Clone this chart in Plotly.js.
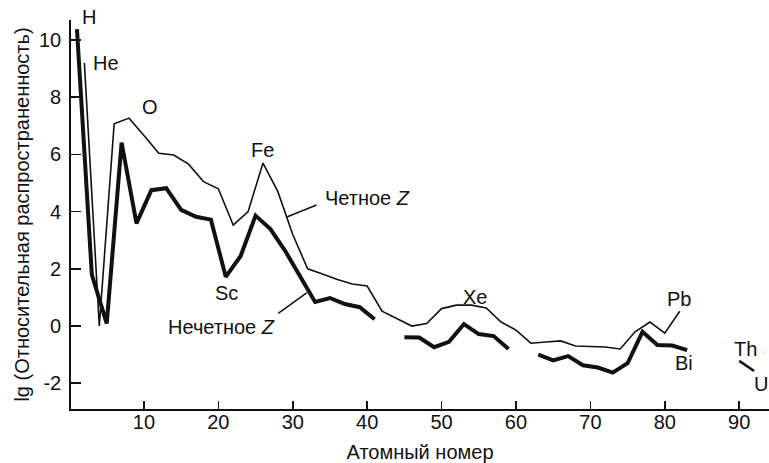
<!DOCTYPE html>
<html>
<head>
<meta charset="utf-8">
<script src="https://cdn.plot.ly/plotly-3.0.1.min.js"></script>
<style>html,body{margin:0;padding:0;background:#fff;}#chart{width:769px;height:463px;}</style>
</head>
<body>
<div id="chart"></div>
<script>
// Even Z elements (thin line)
const evenZ = [2,4,6,8,10,12,14,16,18,20,22,24,26,28,30,32,34,36,38,40,42,44,46,48,50,52,54,56,58,60,62,64,66,68,70,72,74,76,78,80,82];
const evenVals = [9.2,0.0,7.07,7.27,6.66,6.04,5.98,5.66,5.05,4.8,3.53,4.0,5.7,4.7,3.2,2.0,1.82,1.63,1.47,1.4,0.52,0.27,0.0,0.09,0.61,0.73,0.73,0.63,0.14,-0.14,-0.6,-0.56,-0.52,-0.7,-0.72,-0.73,-0.8,-0.2,0.14,-0.25,0.52];
// Odd Z elements (thick line); null = gap
const oddZ = [1,3,5,7,9,11,13,15,17,19,21,23,25,27,29,31,33,35,37,39,41,43,45,47,49,51,53,55,57,59,61,63,65,67,69,71,73,75,77,79,81,83];
const oddVals = [10.38,1.8,0.09,6.41,3.59,4.75,4.82,4.06,3.82,3.72,1.72,2.45,3.86,3.39,2.62,1.71,0.84,0.98,0.77,0.66,0.24,null,-0.39,-0.4,-0.74,-0.55,0.07,-0.28,-0.35,-0.8,null,-1.0,-1.2,-1.05,-1.37,-1.45,-1.63,-1.3,-0.2,-0.66,-0.68,-0.84];
// Th, U
const actZ = [90,92];
const actVals = [-1.22,-1.57];

const yTickVals = [-2,0,2,4,6,8,10];
const yTickText = ['-2','0','2','4','6','8','10'];
const xTickVals = [10,20,30,40,50,60,70,80,90];

// element labels
const labelText = ['He','O','Fe','Sc','Четное <i>Z</i>','Нечетное <i>Z</i>','Xe','Pb','Bi','Th','U'];
const labelZ = [4.9,10.8,26.0,21.1,40.0,20.4,54.5,81.9,82.6,90.9,92.9];
const labelV = [9.18,7.66,6.15,1.14,4.46,-0.05,1.02,0.96,-1.29,-0.8,-2.01];

const ink = '#111';
const fnt = {family:'Liberation Sans, Arial, Helvetica, sans-serif', size:20, color:ink};

const traces = [
  {x: evenZ, y: evenVals, mode:'lines', line:{color:ink, width:1.6}, connectgaps:false, hoverinfo:'skip'},
  {x: oddZ, y: oddVals, mode:'lines', line:{color:ink, width:4}, connectgaps:false, hoverinfo:'skip'},
  {x: actZ, y: actVals, mode:'lines', line:{color:ink, width:2.6}, hoverinfo:'skip'}
];

const annotations = labelText.map((t,i)=>({
  x: labelZ[i], y: labelV[i], xref:'x', yref:'y', text:t, showarrow:false,
  xanchor:'center', yanchor:'middle', font:fnt
}));
annotations.push({x:2.6, y:1.008, xref:'x', yref:'paper', text:'H', showarrow:false, xanchor:'center', yanchor:'middle', font:fnt});

const shapes = [
  {type:'line', xref:'x', yref:'y', x0:33.2, y0:4.23, x1:29.2, y1:3.81, line:{color:ink, width:1.5}},
  {type:'line', xref:'x', yref:'y', x0:28.05, y0:0.44, x1:31.87, y1:1.16, line:{color:ink, width:1.5}}
];

const layout = {
  width:769, height:463,
  margin:{l:71, r:0, t:20, b:54},
  paper_bgcolor:'#fff', plot_bgcolor:'#fff',
  showlegend:false,
  font: fnt,
  xaxis:{
    range:[0.2,94], tickvals:xTickVals, ticks:'inside', ticklen:8, tickwidth:1.6, tickcolor:ink,
    showline:true, linewidth:2, linecolor:ink, showgrid:false, zeroline:false,
    tickfont:fnt, ticklabelstandoff:-6,
    title:{text:'Атомный номер', font:fnt, standoff:14}
  },
  yaxis:{
    range:[-2.9,10.7], tickvals:yTickVals, ticktext:yTickText, ticks:'inside', ticklen:10, tickwidth:1.6, tickcolor:ink,
    showline:true, linewidth:1.8, linecolor:ink, showgrid:false, zeroline:false,
    tickfont:fnt, ticklabelstandoff:4,
    title:{text:'lg (Относительная распространенность)', font:fnt, standoff:4}
  },
  annotations: annotations,
  shapes: shapes
};

Plotly.newPlot('chart', traces, layout, {staticPlot:true, displayModeBar:false});
</script>
</body>
</html>
